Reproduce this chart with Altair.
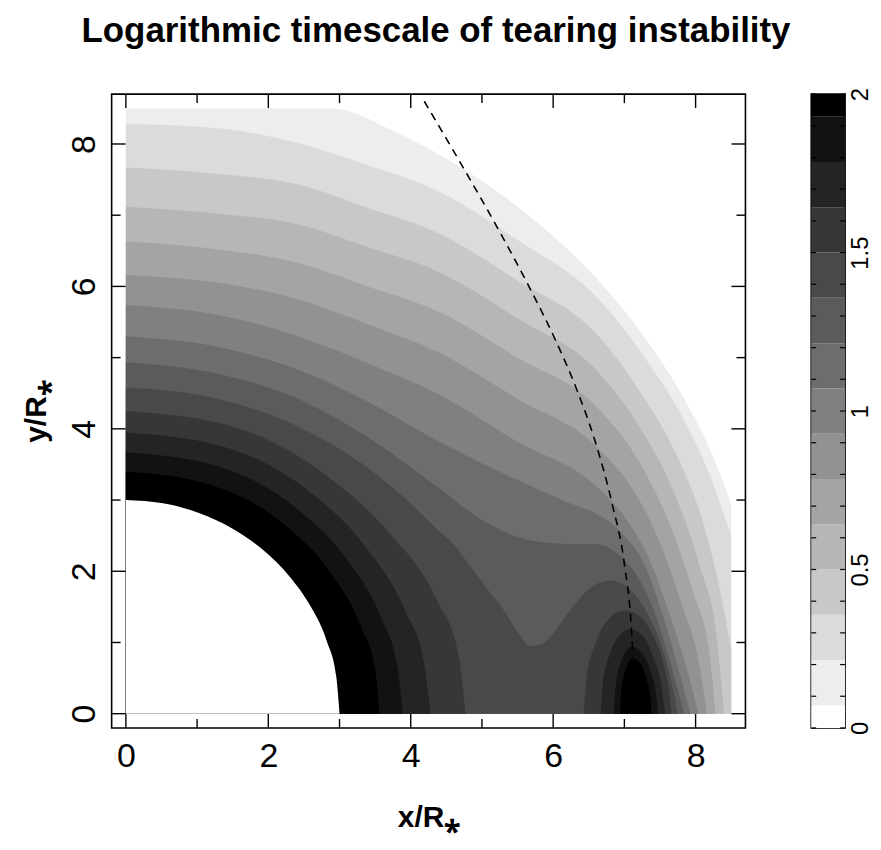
import altair as alt
import pandas as pd

TITLE = "Logarithmic timescale of tearing instability"
X_TITLE = "x/R\u204e"
Y_TITLE = "y/R\u204e"

AXIS_MAJOR = [0, 2, 4, 6, 8]
AXIS_MINOR = [1, 3, 5, 7]
CBAR_LABELS = [0, 0.5, 1, 1.5, 2]
CBAR_TICKS = [0.0, 0.1, 0.2, 0.3, 0.4, 0.5, 0.6, 0.7, 0.8, 0.9, 1.0,
              1.1, 1.2, 1.3, 1.4, 1.5, 1.6, 1.7, 1.8, 1.9, 2.0]

LEVEL_MAX = 2.0
BAND_IDS = list(range(15))
GRAYS = ["#ffffff", "#ededed", "#dbdbdb", "#c8c8c8", "#b6b6b6", "#a4a4a4",
         "#929292", "#808080", "#6d6d6d", "#5b5b5b", "#494949", "#373737",
         "#242424", "#121212", "#000000"]

# boundary of region {band >= k} as (x, y) points
C1 = [(0, 8.5), (2.9, 8.5), (3.8, 8.16), (4.75, 7.64), (5.75, 6.92), (6.62, 6.1),
      (7.3, 5.26), (7.85, 4.4), (8.25, 3.6), (8.5, 2.95)]
C2 = [(0, 8.28), (1.3, 8.22), (2.42, 8.01), (3.4, 7.7), (4.38, 7.34), (5.5, 6.65),
      (6.62, 5.84), (7.3, 4.98), (7.85, 4.1), (8.2, 3.35), (8.5, 2.5)]
C3 = [(0, 7.67), (1.3, 7.58), (2.42, 7.43), (3.4, 7.1), (4.38, 6.75), (5.5, 6.08),
      (6.62, 5.32), (7.2, 4.55), (7.7, 3.7), (8.1, 2.7), (8.35, 1.7), (8.5, 0.9)]
C4 = [(0, 7.12), (1.3, 7.02), (2.42, 6.87), (3.4, 6.55), (4.38, 6.21), (5.5, 5.55),
      (6.62, 4.81), (7.2, 4.05), (7.7, 3.1), (8.05, 2.1), (8.3, 1.05), (8.40, 0)]
C5 = [(0, 6.63), (1.3, 6.52), (2.42, 6.33), (3.4, 6.0), (4.38, 5.65), (5.5, 5.0),
      (6.62, 4.30), (7.2, 3.55), (7.6, 2.75), (7.95, 1.75), (8.2, 0.8), (8.28, 0)]
C6 = [(0, 6.16), (1.3, 6.05), (2.42, 5.82), (3.4, 5.47), (4.38, 5.08), (5.5, 4.42),
      (6.62, 3.74), (7.15, 3.1), (7.5, 2.4), (7.8, 1.55), (8.05, 0.7), (8.16, 0)]
C7 = [(0, 5.74), (1.3, 5.6), (2.42, 5.30), (3.4, 4.92), (4.38, 4.49), (5.5, 3.82),
      (6.62, 3.18), (7.05, 2.7), (7.38, 2.1), (7.65, 1.35), (7.9, 0.55), (8.04, 0)]
C8 = [(0, 5.30), (1.3, 5.15), (2.42, 4.83), (3.4, 4.38), (4.38, 3.83), (5.5, 3.28),
      (6.2, 2.97), (6.62, 2.8), (6.95, 2.55), (7.3, 2.05), (7.55, 1.35), (7.78, 0.55),
      (7.93, 0)]
C9 = [(0, 4.93), (1.3, 4.77), (2.42, 4.42), (3.4, 3.88), (4.38, 3.18), (5.0, 2.72),
      (5.5, 2.48), (5.9, 2.40), (6.3, 2.38), (6.62, 2.38), (6.9, 2.25), (7.2, 1.9),
      (7.45, 1.35), (7.65, 0.7), (7.84, 0)]
C10 = [(0, 4.58), (1.3, 4.42), (2.42, 4.03), (3.4, 3.45), (4.0, 2.95), (4.38, 2.58),
       (4.6, 2.38), (4.85, 2.05), (5.1, 1.72), (5.31, 1.45), (5.5, 1.15), (5.68, 0.95),
       (5.85, 0.98), (6.02, 1.15), (6.2, 1.40), (6.52, 1.76), (6.80, 1.87), (7.04, 1.78),
       (7.3, 1.45), (7.52, 0.95), (7.66, 0.45), (7.75, 0)]
C11 = [(0, 4.25), (1.47, 4.04), (2.81, 3.35), (3.67, 2.57), (4.37, 1.59), (4.67, 0.83), (4.77, 0)]
C12 = [(0, 3.95), (1.37, 3.75), (2.60, 3.10), (3.36, 2.35), (3.93, 1.43), (4.18, 0.74), (4.28, 0)]
C13 = [(0, 3.67), (1.27, 3.48), (2.41, 2.87), (3.10, 2.17), (3.60, 1.31), (3.81, 0.67), (3.89, 0)]
C14 = [(0, 3.40), (1.17, 3.22), (2.23, 2.65), (2.86, 2.00), (3.31, 1.20), (3.50, 0.62), (3.56, 0)]
B11 = [(6.43, 0), (6.47, 0.5), (6.6, 1.0), (6.8, 1.35), (6.99, 1.45), (7.2, 1.38),
       (7.4, 1.1), (7.55, 0.7), (7.63, 0.3), (7.66, 0)]
B12 = [(6.67, 0), (6.7, 0.45), (6.8, 0.85), (6.95, 1.12), (7.08, 1.19), (7.25, 1.1),
       (7.4, 0.8), (7.52, 0.4), (7.57, 0)]
B13 = [(6.85, 0), (6.88, 0.4), (6.96, 0.75), (7.10, 0.94), (7.25, 0.85), (7.38, 0.55),
       (7.45, 0.25), (7.47, 0)]
B14 = [(6.94, 0), (6.96, 0.35), (7.02, 0.62), (7.12, 0.78), (7.23, 0.7), (7.32, 0.45),
       (7.37, 0.2), (7.38, 0)]
DISK = [(0, 3.0), (0.52, 2.954), (1.026, 2.819), (1.5, 2.598), (1.928, 2.298),
        (2.298, 1.928), (2.598, 1.5), (2.819, 1.026), (2.954, 0.521), (3.0, 0)]

DASHED_X = [4.19, 4.66, 5.22, 5.67, 6.04, 6.32, 6.60, 6.83, 7.00, 7.10, 7.12]
DASHED_Y = [8.60, 7.80, 6.82, 5.98, 5.23, 4.58, 3.79, 2.94, 2.10, 1.17, 0.80]

DRAW_ORDER = [(1, C1), (2, C2), (3, C3), (4, C4), (5, C5), (6, C6), (7, C7),
              (8, C8), (9, C9), (10, C10), (11, C11), (11, B11), (12, C12),
              (12, B12), (13, C13), (13, B13), (14, C14), (14, B14), (0, DISK)]

FONT = "Liberation Sans"
W = 636
H = 636
MAJ = 14
MIN = 9

xs = alt.Scale(domain=[-0.2, 8.7], nice=False, zero=False)
ys = alt.Scale(domain=[-0.2, 8.7], nice=False, zero=False)
cscale = alt.Scale(domain=BAND_IDS, range=GRAYS)

x_axis = alt.Axis(values=AXIS_MAJOR, ticks=False, tickSize=0, domain=False, grid=False,
                  format="d", labelFont=FONT, labelFontSize=34, labelPadding=12,
                  labelColor="black", title=X_TITLE, titleFont=FONT, titleFontSize=30,
                  titleFontWeight="bold", titlePadding=29, titleColor="black")
y_axis = alt.Axis(values=AXIS_MAJOR, ticks=False, tickSize=0, domain=False, grid=False,
                  format="d", labelFont=FONT, labelFontSize=34, labelPadding=10,
                  labelAngle=-90, labelAlign="center", labelBaseline="bottom",
                  labelColor="black", title=Y_TITLE, titleFont=FONT, titleFontSize=30,
                  titleFontWeight="bold", titlePadding=16, titleColor="black")

X = alt.X("x:Q", scale=xs, axis=x_axis)
Y = alt.Y("y:Q", scale=ys, axis=y_axis)

layers = []
for k, pts in DRAW_ORDER:
    df = pd.DataFrame(pts, columns=["x", "y"])
    df["k"] = k
    layers.append(
        alt.Chart(df).mark_area(interpolate="monotone").encode(
            x=X, y=Y, y2=alt.datum(0),
            color=alt.Color("k:O", scale=cscale, legend=None),
        )
    )

dash_df = pd.DataFrame({"x": DASHED_X, "y": DASHED_Y})
layers.append(
    alt.Chart(dash_df).mark_line(color="black", strokeWidth=1.6, strokeDash=[8, 6],
                                 interpolate="monotone").encode(x=X, y=Y)
)

maj_x = pd.DataFrame({"x": AXIS_MAJOR})
min_x = pd.DataFrame({"x": AXIS_MINOR})
maj_y = pd.DataFrame({"y": AXIS_MAJOR})
min_y = pd.DataFrame({"y": AXIS_MINOR})
tick_style = dict(color="black", strokeWidth=1.4)
for d, ln in ((maj_x, MAJ), (min_x, MIN)):
    layers.append(alt.Chart(d).mark_rule(**tick_style).encode(
        x=X, y=alt.value(H), y2=alt.value(H - ln)))
    layers.append(alt.Chart(d).mark_rule(**tick_style).encode(
        x=X, y=alt.value(0), y2=alt.value(ln)))
for d, ln in ((maj_y, MAJ), (min_y, MIN)):
    layers.append(alt.Chart(d).mark_rule(**tick_style).encode(
        y=Y, x=alt.value(0), x2=alt.value(ln)))
    layers.append(alt.Chart(d).mark_rule(**tick_style).encode(
        y=Y, x=alt.value(W), x2=alt.value(W - ln)))

main = alt.layer(*layers).properties(width=W, height=H)

# colour bar
step = LEVEL_MAX / (len(BAND_IDS) - 1)
cb_df = pd.DataFrame({
    "k": BAND_IDS,
    "lo": [max(0.0, (k - 0.5) * step) for k in BAND_IDS],
    "hi": [min(LEVEL_MAX, (k + 0.5) * step) for k in BAND_IDS],
})
CBW = 34
cb_scale = alt.Scale(domain=[0, LEVEL_MAX], nice=False, zero=False)
cb_axis = alt.Axis(orient="right", values=CBAR_LABELS, format="~g", ticks=False,
                   tickSize=0, domain=False, grid=False, labelFont=FONT,
                   labelFontSize=24, labelAngle=-90, labelAlign="center",
                   labelBaseline="top", labelPadding=3, labelColor="black", title=None)
CBY = alt.Y("lo:Q", scale=cb_scale, axis=cb_axis)
bar = alt.Chart(cb_df).mark_rect().encode(
    y=CBY, y2="hi:Q", x=alt.value(0), x2=alt.value(CBW),
    color=alt.Color("k:O", scale=cscale, legend=None),
)
cbt = pd.DataFrame({"lo": CBAR_TICKS})
cb_left = alt.Chart(cbt).mark_rule(color="black", strokeWidth=1.2).encode(
    y=CBY, x=alt.value(0), x2=alt.value(5))
cb_right = alt.Chart(cbt).mark_rule(color="black", strokeWidth=1.2).encode(
    y=CBY, x=alt.value(CBW - 5), x2=alt.value(CBW))
colorbar = alt.layer(bar, cb_left, cb_right).properties(width=CBW, height=H)

chart = alt.hconcat(main, colorbar, spacing=62).properties(
    title=alt.TitleParams(TITLE, font=FONT, fontSize=35, fontWeight="bold",
                          anchor="middle", color="black", offset=38, dx=-11),
    padding={"left": 13, "top": 4, "right": 0, "bottom": 0},
).configure_view(stroke="black", strokeWidth=1.6)

chart.save("out.html", embed_options={"renderer": "svg", "actions": False})
